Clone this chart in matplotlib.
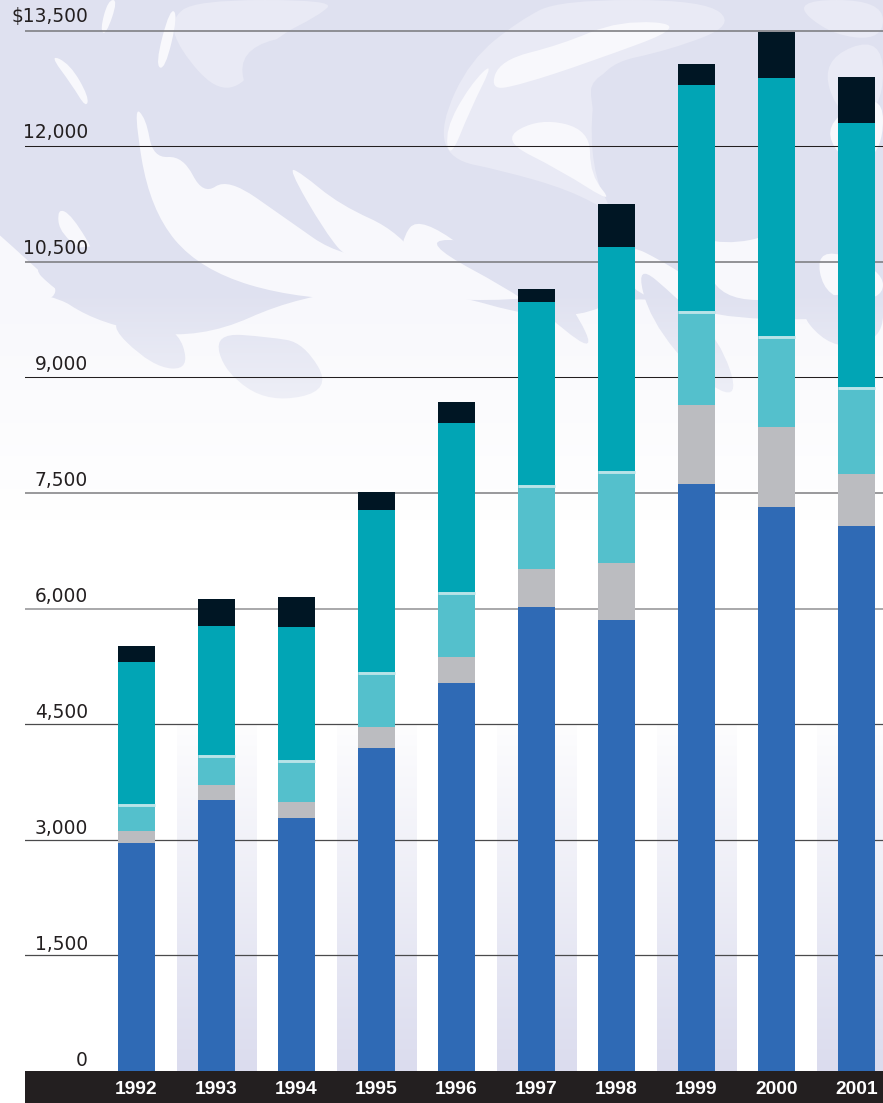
"""
plot.py
-------
Stacked yearly bars over a faded map background.
"""

import numpy as np
import matplotlib
matplotlib.use("Agg")
import matplotlib.pyplot as plt
from matplotlib.colors import LinearSegmentedColormap
from matplotlib.patches import PathPatch, Rectangle
from matplotlib.path import Path
from matplotlib.transforms import ScaledTranslation

W, H = 883, 1103
DPI = 100
ZERO_PX = 1071   # pixel row of the zero line
TOP_PX = 30.5    # pixel row of the 13,500 line
LEFT_PX = 25

years = ["1992", "1993", "1994", "1995", "1996", "1997", "1998", "1999", "2000", "2001"]
blue = [2959, 3518, 3284, 4193, 5036, 6023, 5854, 7620, 7321, 7074]
gray = [156, 195, 208, 273, 337, 493, 740, 1025, 1038, 675]
light_teal = [350, 389, 545, 714, 844, 1090, 1194, 1220, 1181, 1129]
teal = [1843, 1674, 1726, 2103, 2194, 2375, 2908, 2933, 3349, 3427]
black = [208, 350, 389, 234, 273, 169, 558, 273, 597, 597]

y_ticks = [0, 1500, 3000, 4500, 6000, 7500, 9000, 10500, 12000, 13500]
y_labels = ["0", "1,500", "3,000", "4,500", "6,000", "7,500", "9,000", "10,500", "12,000", "$13,500"]

series = [
    (blue, "#2f6ab5"),
    (gray, "#bbbcc0"),
    (light_teal, "#54c0cc"),
    (teal, "#01a5b5"),
    (black, "#001624"),
]

# grid lines fall on the pixels differently, so some look heavier in the original
line_styles = {
    1500: ("#4a4a4c", 0.9),
    3000: ("#4a4a4c", 0.9),
    4500: ("#4a4a4c", 0.9),
    6000: ("#9a9a9c", 1.2),
    7500: ("#88888a", 1.2),
    9000: ("#231f20", 0.75),
    10500: ("#808084", 1.2),
    12000: ("#231f20", 0.75),
    13500: ("#808084", 1.2),
}

# map shapes for the background, in pixels
map_light = [
    [(195, 0), (335, 0), (320, 15), (270, 40), (245, 85), (215, 90), (180, 50), (170, 20)],
    [(440, 125), (470, 60), (520, 20), (560, 0), (705, 0), (735, 25), (670, 50), (600, 65),
     (590, 120), (595, 180), (615, 215), (570, 190), (500, 170), (450, 160)],
    [(790, 0), (883, 0), (883, 40), (830, 35)],
    [(820, 60), (883, 35), (883, 110), (840, 120)],
]
map_white = [
    [(49, 54), (70, 64), (89, 97), (86, 108), (72, 85)],
    [(133, 106), (146, 118), (153, 158), (183, 156), (203, 195), (228, 178), (285, 218), (342, 258),
     (440, 262), (440, 300), (300, 300), (200, 270), (150, 210)],
    [(288, 168), (300, 172), (340, 205), (400, 232), (440, 290), (350, 262), (325, 232)],
    [(-40, 200), (30, 262), (70, 300), (-40, 320)],
    [(57, 208), (72, 215), (100, 262), (60, 235)],
    [(108, 0), (118, 0), (106, 35), (100, 30)],
    [(170, 8), (178, 15), (165, 70), (155, 65)],
    [(500, 60), (560, 45), (620, 20), (690, 25), (590, 62), (520, 85), (490, 90)],
    [(445, 130), (470, 85), (495, 60), (470, 110), (450, 160)],
    [(540, 118), (590, 130), (590, 175), (615, 205), (560, 170), (500, 140)],
    [(717, 170), (760, 215), (795, 262), (795, 300), (720, 300), (700, 250)],
    [(400, 240), (420, 215), (500, 275), (560, 300), (400, 300)],
    [(820, 125), (883, 90), (883, 150), (850, 170)],
    [(620, 240), (670, 265), (720, 300), (630, 300)],
    [(815, 245), (883, 270), (883, 300), (825, 300)],
    # everything below the map, corners well outside the picture
    [(-300, 270), (40, 285), (100, 325), (200, 340), (300, 295), (420, 285), (560, 325), (640, 290),
     (760, 330), (1200, 285), (1200, 900), (-300, 900)],
]
map_dark = [
    [(28, 263), (101, 240), (107, 270), (84, 305), (55, 290)],
    [(101, 240), (175, 240), (225, 312), (197, 337), (140, 283)],
    [(101, 317), (175, 323), (191, 370), (152, 367)],
    [(214, 333), (270, 337), (304, 343), (332, 390), (270, 403), (225, 373)],
    [(417, 240), (479, 240), (540, 277), (574, 307), (597, 357), (529, 300)],
    [(636, 263), (676, 297), (720, 340), (740, 400), (700, 380), (650, 320)],
    [(790, 300), (883, 290), (883, 340), (830, 350)],
    [(240, 45), (330, 30), (420, 60), (450, 110), (400, 140), (300, 135), (245, 100)],
    [(592, 70), (720, 40), (800, 60), (830, 120), (800, 230), (700, 250), (620, 180), (590, 110)],
]


def blob(pts):
    # closed rounded shape: quadratic curves between edge midpoints
    pts = np.array(pts, dtype=float)
    mids = (pts + np.roll(pts, -1, axis=0)) / 2
    verts = [mids[-1]]
    codes = [Path.MOVETO]
    for p, m in zip(pts, mids):
        verts += [p, m]
        codes += [Path.CURVE3, Path.CURVE3]
    return Path(verts, codes)


fig = plt.figure(figsize=(W / DPI, H / DPI), dpi=DPI)
fig.patch.set_facecolor("white")

# background layer in pixel coordinates
bg = fig.add_axes([0, 0, 1, 1], zorder=0)
bg.set_xlim(0, W)
bg.set_ylim(H, 0)
bg.axis("off")
bg.add_patch(Rectangle((0, 0), W, 640, facecolor="#dfe1f0", edgecolor="none", zorder=1))
for pts in map_light:
    bg.add_patch(PathPatch(blob(pts), facecolor="#e9eaf5", edgecolor="none", zorder=2))
for pts in map_white:
    bg.add_patch(PathPatch(blob(pts), facecolor="#f8f8fc", edgecolor="none", zorder=3))
for pts in map_dark:
    bg.add_patch(PathPatch(blob(pts), facecolor="#dfe1f0", edgecolor="none", zorder=4))

# fade the map out towards white further down
fade = np.zeros((H, 1, 4))
fade[..., :3] = 1.0
fade[:, 0, 3] = np.clip((np.arange(H) - 290) / 230.0, 0, 1)
bg.imshow(fade, extent=(0, W, H, 0), aspect="auto", zorder=5)
bg.set_xlim(0, W)
bg.set_ylim(H, 0)

bg.add_patch(Rectangle((LEFT_PX, ZERO_PX), W - LEFT_PX, H - ZERO_PX,
                       facecolor="#231f20", edgecolor="none", zorder=8))

# main chart on top, one year slot is 80 pixels
ax = fig.add_axes([LEFT_PX / W, 1 - ZERO_PX / H, 1 - LEFT_PX / W, ZERO_PX / H], zorder=1)
ax.patch.set_alpha(0)
x = np.arange(len(years))
xlim = ((LEFT_PX - 136.5) / 80, (W - 136.5) / 80)
units_per_px = 13500 / (ZERO_PX - TOP_PX)
ylim = (0, ZERO_PX * units_per_px)

# lavender stripes behind every second year
band = np.linspace(0, 1, 256).reshape(-1, 1)
band_cmap = LinearSegmentedColormap.from_list("band", ["#fdfdfe", "#dbdcee"])
for i in x[1::2]:
    ax.imshow(band, extent=(i - 0.5, i + 0.5, 0, 4500), origin="upper", aspect="auto",
              cmap=band_cmap, zorder=1)
ax.set_xlim(*xlim)
ax.set_ylim(*ylim)

for tick, (col, lw) in line_styles.items():
    ax.axhline(tick, color=col, linewidth=lw, zorder=2)

bottom = np.zeros(len(years))
for values, col in series:
    ax.bar(x, values, bottom=bottom, width=37 / 80, color=col, linewidth=0, zorder=3)
    bottom = bottom + np.array(values)
    if col == "#54c0cc":
        # pale rule along the top of the light teal block
        ax.hlines(bottom - 1.5 * units_per_px, x - 37 / 160, x + 37 / 160,
                  color="#b8e3e8", linewidth=2.1, zorder=4)

for side in ax.spines.values():
    side.set_visible(False)

ax.set_yticks(y_ticks)
ax.set_yticklabels(y_labels, fontfamily="DejaVu Sans", fontsize=13.4, color="#231f20")
ax.tick_params(axis="y", length=0, pad=-45.4, labelleft=True)
# the labels step a little wider than the grid lines
for i, lab in enumerate(ax.get_yticklabels()):
    lab.set_va("bottom")
    shift = ScaledTranslation(0, (1 + 0.44 * i) / DPI, fig.dpi_scale_trans)
    lab.set_transform(lab.get_transform() + shift)

ax.set_xticks(x)
ax.set_xticklabels(years, fontfamily="Liberation Sans", fontweight="bold", fontsize=13.9, color="white")
ax.tick_params(axis="x", length=0, pad=7)

fig.savefig("out.png", dpi=DPI)
